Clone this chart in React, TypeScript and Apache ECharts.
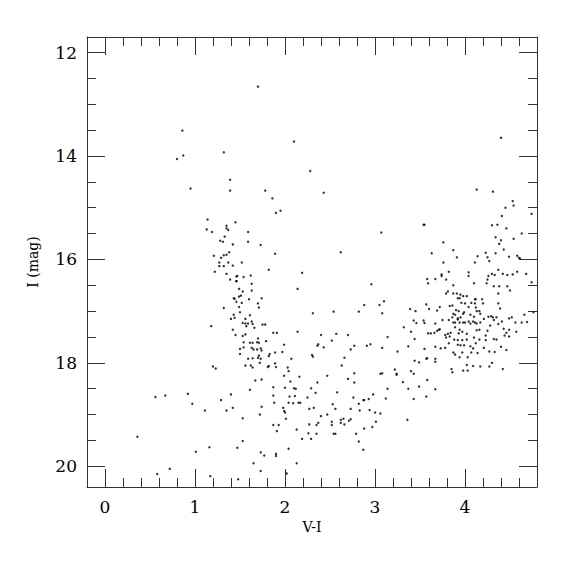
import React, { useEffect, useRef } from "react";
import * as echarts from "echarts";

// Tick values
const xMajor = [0, 1, 2, 3, 4];
const xMinor = [0, 0.2, 0.4, 0.6, 0.8, 1, 1.2, 1.4, 1.6, 1.8, 2, 2.2, 2.4, 2.6, 2.8, 3, 3.2, 3.4, 3.6, 3.8, 4, 4.2, 4.4, 4.6];
const yMajor = [12, 14, 16, 18, 20];
const yMinor = [12, 12.5, 13, 13.5, 14, 14.5, 15, 15.5, 16, 16.5, 17, 17.5, 18, 18.5, 19, 19.5, 20];

// [V-I, I] star measurements
const brightStars = [
  [1.70, 12.66], [0.86, 13.51], [0.87, 13.99], [0.80, 14.06], [1.32, 13.93], [1.39, 14.46], [1.39, 14.67],
  [0.95, 14.63], [2.10, 13.72], [2.28, 14.29], [1.78, 14.67], [2.43, 14.71], [1.86, 14.82], [1.90, 15.10],
  [1.95, 15.06], [4.40, 13.65], [4.13, 14.65], [4.31, 14.69],
];

const leftBranch = [
  [1.14, 15.23], [1.45, 15.28], [1.13, 15.42], [1.19, 15.47], [1.35, 15.35], [1.35, 15.40], [1.37, 15.43],
  [1.33, 15.56], [1.28, 15.64], [1.31, 15.66], [1.42, 15.71], [1.38, 15.86], [1.35, 15.91], [1.32, 15.92],
  [1.21, 15.93], [1.29, 15.97], [1.27, 16.06], [1.37, 16.06], [1.27, 16.13], [1.32, 16.13], [1.42, 16.12],
  [1.22, 16.24], [1.35, 16.28], [1.39, 16.39], [1.46, 16.42], [1.46, 16.33], [1.43, 16.75], [1.44, 16.76],
  [1.46, 16.82], [1.32, 16.94], [1.43, 17.07], [1.44, 17.13], [1.40, 17.15], [1.18, 17.29], [1.42, 17.36],
  [1.45, 17.46], [1.20, 18.07], [1.23, 18.11], [0.56, 18.66], [0.67, 18.63], [0.92, 18.60], [0.97, 18.79],
  [1.11, 18.92], [1.29, 18.72], [1.40, 18.61], [1.35, 18.92], [1.42, 18.87], [0.36, 19.43], [1.01, 19.72],
  [1.16, 19.63], [0.58, 20.15], [0.72, 20.05], [1.17, 20.19],
  [1.59, 15.47], [1.59, 15.66], [1.73, 15.72], [1.89, 15.89], [1.52, 16.06], [1.82, 16.20], [2.19, 16.26],
  [1.47, 16.32], [1.54, 16.34], [1.62, 16.31], [1.46, 16.42], [1.63, 16.47], [2.14, 16.57], [1.49, 16.57],
  [1.53, 16.62], [1.63, 16.60], [1.51, 16.70], [1.49, 16.72], [1.74, 16.75], [1.60, 16.77],
];

const middleStars = [
  [3.07, 15.48], [2.62, 15.86], [2.96, 16.48],
  [1.52, 16.84], [1.70, 16.85], [1.49, 16.92], [1.71, 16.93], [1.50, 17.02], [1.61, 17.08], [1.56, 17.15],
  [1.63, 17.20], [1.53, 17.23], [1.56, 17.24], [1.59, 17.24], [1.57, 17.29], [1.64, 17.25], [1.66, 17.32],
  [1.75, 17.26], [1.78, 17.26], [1.53, 17.48], [1.56, 17.45], [1.70, 17.53], [1.87, 17.42], [1.91, 17.42],
  [1.54, 17.60], [1.61, 17.61], [1.64, 17.61], [1.69, 17.60], [1.71, 17.61], [1.79, 17.58], [2.14, 17.40],
  [2.31, 17.04], [2.54, 17.01], [2.88, 16.88], [3.05, 16.88], [3.10, 16.81], [2.82, 17.01], [3.08, 17.04],
  [3.14, 17.50], [2.40, 17.46], [2.57, 17.44], [2.70, 17.46], [2.52, 17.57], [2.37, 17.64], [2.36, 17.67],
  [2.43, 17.70], [2.30, 17.85], [2.31, 17.88], [1.99, 17.65], [1.97, 17.79], [1.89, 17.80], [1.83, 17.83],
  [1.82, 17.87], [1.50, 17.73], [1.50, 17.83], [1.54, 17.70], [1.63, 17.71], [1.65, 17.74], [1.69, 17.74],
  [1.73, 17.72], [1.74, 17.76], [1.71, 17.86], [1.70, 17.90], [1.73, 17.92], [1.59, 17.92], [1.64, 17.91],
  [1.72, 18.00], [1.56, 18.05], [1.62, 18.05], [1.64, 18.09], [1.82, 18.06], [1.81, 18.08], [1.89, 18.01],
  [1.90, 18.08], [2.07, 17.92], [2.73, 17.74], [2.77, 17.67], [2.91, 17.67], [2.95, 17.64], [3.08, 17.71],
  [2.66, 17.90], [2.63, 18.05], [2.03, 18.09], [2.04, 18.16], [2.16, 18.27], [1.99, 18.25], [1.74, 18.32],
  [1.67, 18.34], [2.06, 18.36], [2.47, 18.25], [2.36, 18.38], [2.70, 18.31], [2.77, 18.20], [2.77, 18.38],
  [3.06, 18.21], [3.08, 18.20], [1.61, 18.52], [1.87, 18.47], [2.00, 18.48], [2.10, 18.49], [2.12, 18.50],
  [2.29, 18.49], [2.34, 18.58], [2.58, 18.57], [2.05, 18.65], [2.11, 18.64], [1.87, 18.63], [2.25, 18.67],
  [2.76, 18.67], [2.87, 18.72], [2.88, 18.72], [2.93, 18.70], [2.98, 18.61], [3.12, 18.69], [1.88, 18.77],
  [2.04, 18.77], [2.09, 18.78], [2.15, 18.77], [2.17, 18.77], [2.53, 18.80], [1.74, 18.85], [1.98, 18.87],
  [2.27, 18.89], [2.32, 18.87], [2.56, 18.89], [2.73, 18.89], [2.82, 18.79], [2.83, 18.92], [2.94, 18.91],
  [3.00, 18.96], [3.06, 18.98], [1.72, 19.00], [1.99, 18.93], [2.00, 18.96], [2.01, 19.08], [1.53, 19.07],
  [2.40, 19.03], [2.47, 19.00], [2.62, 19.10], [2.65, 19.08], [2.71, 19.12], [2.73, 19.09], [3.01, 19.14],
  [2.52, 19.14], [2.37, 19.16], [2.35, 19.20], [2.52, 19.20], [2.62, 19.16], [2.66, 19.19], [2.27, 19.19],
  [1.87, 19.20], [1.93, 19.20], [2.97, 19.24], [2.88, 19.27], [2.13, 19.29], [1.91, 19.32], [2.54, 19.37],
  [2.56, 19.37], [2.35, 19.37], [2.26, 19.36], [2.79, 19.37], [2.19, 19.47], [2.29, 19.47], [1.53, 19.51],
  [2.82, 19.52], [1.47, 19.64], [2.04, 19.66], [2.87, 19.68], [1.73, 19.73], [1.77, 19.79], [1.90, 19.76],
  [1.90, 19.80], [1.65, 19.94], [2.13, 19.94], [1.73, 20.09], [2.02, 20.14], [1.48, 20.25],
];

const redClumpUpper = [
  [4.53, 14.87], [4.54, 14.96], [4.45, 15.00], [4.74, 15.12], [4.41, 15.16], [3.54, 15.33], [3.55, 15.33],
  [4.30, 15.34], [4.36, 15.33], [4.46, 15.40], [4.63, 15.50], [4.34, 15.57], [4.40, 15.63], [4.54, 15.60],
  [4.38, 15.70], [3.76, 15.67], [3.87, 15.82], [3.63, 15.88], [4.43, 15.81], [3.91, 15.96], [4.23, 15.87],
  [4.14, 15.94], [4.25, 15.96], [4.34, 15.88], [4.49, 15.95], [4.58, 15.93], [4.60, 15.97], [4.61, 15.98],
  [3.76, 16.06], [4.11, 16.06], [4.27, 16.03], [4.37, 16.20],
];

const redClump = [
  [3.82, 16.24], [3.74, 16.29], [3.74, 16.32], [3.58, 16.38], [3.59, 16.46], [3.67, 16.38], [3.79, 16.39],
  [3.87, 16.50], [4.04, 16.25], [4.04, 16.32], [4.10, 16.46], [4.25, 16.39], [4.26, 16.32], [4.30, 16.28],
  [4.33, 16.30], [4.42, 16.28], [4.47, 16.30], [4.53, 16.29], [4.58, 16.24], [4.68, 16.28], [4.24, 16.46],
  [4.32, 16.52], [4.38, 16.52], [4.47, 16.52], [4.50, 16.60], [4.74, 16.44], [3.81, 16.62], [3.79, 16.66],
  [3.87, 16.66], [3.91, 16.66], [3.92, 16.75], [3.94, 16.75], [3.95, 16.68], [3.98, 16.71], [4.02, 16.71],
  [4.11, 16.77], [4.12, 16.77], [4.19, 16.77], [4.37, 16.66], [4.07, 16.84], [4.11, 16.85], [4.20, 16.85],
  [4.12, 16.93], [4.00, 16.85], [3.96, 16.84], [3.86, 16.89], [3.83, 16.90], [3.72, 16.92], [3.60, 16.96],
  [3.57, 16.87], [3.39, 16.96], [3.45, 17.00], [3.69, 16.99], [3.90, 16.98], [3.93, 17.00], [4.04, 16.92],
  [4.37, 16.85], [4.39, 16.95], [3.87, 17.05], [3.89, 17.07], [3.98, 17.05], [3.99, 17.02], [4.13, 17.00],
  [4.16, 17.00], [4.17, 17.05], [4.06, 17.07], [4.10, 17.11], [3.95, 17.12], [3.92, 17.14], [3.86, 17.12],
  [3.82, 17.17], [3.75, 17.17], [3.67, 17.24], [3.54, 17.18], [3.43, 17.18], [3.46, 17.23], [3.55, 17.23],
  [3.32, 17.31], [3.40, 17.40], [3.44, 17.54], [3.59, 17.43], [3.62, 17.43], [3.66, 17.42], [3.69, 17.38],
  [3.71, 17.36], [3.72, 17.35], [3.78, 17.46], [3.81, 17.44], [3.84, 17.42], [3.89, 17.31], [3.87, 17.22],
  [3.89, 17.22], [3.92, 17.16], [3.94, 17.22], [3.98, 17.22], [4.00, 17.22], [4.04, 17.20], [4.06, 17.24],
  [4.09, 17.20], [4.11, 17.22], [4.13, 17.24], [4.17, 17.22], [4.21, 17.15], [4.26, 17.11], [4.29, 17.10],
  [4.31, 17.12], [4.32, 17.17], [4.35, 17.12], [4.41, 17.20], [4.49, 17.14], [4.52, 17.12], [4.56, 17.22],
  [4.63, 17.22], [4.66, 17.07], [4.69, 17.21], [4.76, 17.02], [3.94, 17.36], [3.97, 17.40], [4.02, 17.44],
  [4.13, 17.37], [4.16, 17.36], [4.25, 17.38], [4.28, 17.28], [4.37, 17.25], [4.43, 17.34], [4.46, 17.42],
  [4.49, 17.36], [4.57, 17.40], [4.23, 17.47], [4.32, 17.54], [4.35, 17.55], [4.44, 17.47], [4.49, 17.49],
  [3.93, 17.43], [3.83, 17.49], [3.79, 17.51], [3.88, 17.55], [3.92, 17.56], [3.97, 17.56], [4.02, 17.55],
  [4.10, 17.51], [4.12, 17.62], [4.16, 17.55],
];

const redFaint = [
  [3.55, 17.73], [3.67, 17.69], [3.73, 17.72], [3.78, 17.71], [3.82, 17.62], [3.92, 17.65], [3.95, 17.66],
  [3.99, 17.66], [4.06, 17.68], [4.09, 17.72], [4.21, 17.71], [4.23, 17.56], [4.40, 17.69], [4.46, 17.75],
  [4.27, 17.78], [4.33, 17.79], [3.37, 17.68], [3.25, 17.78], [3.44, 17.96], [3.49, 17.99], [3.57, 17.92],
  [3.58, 17.91], [3.67, 17.92], [3.67, 17.98], [3.87, 17.80], [3.89, 17.84], [3.94, 17.89], [3.97, 17.80],
  [4.03, 17.89], [4.07, 17.80], [4.14, 17.81], [4.02, 18.04], [4.09, 18.06], [4.17, 18.07], [4.27, 18.07],
  [4.30, 18.00], [3.85, 18.12], [3.86, 18.18], [3.98, 18.15], [4.03, 18.15], [4.42, 18.12], [3.22, 18.13],
  [3.24, 18.21], [3.24, 18.23], [3.40, 18.16], [3.43, 18.21], [3.31, 18.37], [3.58, 18.33], [3.49, 18.46],
  [3.37, 18.50], [3.67, 18.51], [3.14, 18.50], [3.43, 18.70], [3.57, 18.65], [3.36, 19.10],
];

const FONT = "DejaVu Serif";
const LINE = "#333";

function axisX(position: string, ticks: number[], len: number, showLine: boolean, labels: boolean, extra: any = {}) {
  return {
    type: "value",
    min: -0.2,
    max: 4.8,
    position,
    axisLine: { show: showLine, onZero: false, lineStyle: { color: LINE, width: 1 } },
    axisTick: { show: true, inside: true, length: len, customValues: ticks, lineStyle: { color: LINE, width: 1 } },
    axisLabel: labels
      ? { show: true, customValues: xMajor, margin: 11, color: "#000", fontFamily: FONT, fontSize: 17 }
      : { show: false },
    splitLine: { show: false },
    ...extra,
  };
}

function axisY(position: string, ticks: number[], len: number, showLine: boolean, labels: boolean, extra: any = {}) {
  return {
    type: "value",
    min: 11.7,
    max: 20.4,
    inverse: true,
    position,
    axisLine: { show: showLine, onZero: false, lineStyle: { color: LINE, width: 1 } },
    axisTick: { show: true, inside: true, length: len, customValues: ticks, lineStyle: { color: LINE, width: 1 } },
    axisLabel: labels
      ? { show: true, customValues: yMajor, margin: 10, color: "#000", fontFamily: FONT, fontSize: 17 }
      : { show: false },
    splitLine: { show: false },
    ...extra,
  };
}

export default function App() {
  const ref = useRef<HTMLDivElement>(null);
  useEffect(() => {
    if (!ref.current) return;
    const chart = echarts.init(ref.current, null, { renderer: "svg" });
    const allPoints = [...brightStars, ...leftBranch, ...middleStars, ...redClumpUpper, ...redClump, ...redFaint];
    chart.setOption({
      animation: false,
      backgroundColor: "#fff",
      grid: { left: 87, top: 37, width: 450, height: 450 },
      xAxis: [
        axisX("bottom", xMajor, 18, true, true, {
          name: "V-I",
          nameLocation: "middle",
          nameGap: 31,
          nameTextStyle: { fontFamily: FONT, fontSize: 14, color: "#000" },
        }),
        axisX("bottom", xMinor, 9, false, false),
        axisX("top", xMajor, 18, true, false),
        axisX("top", xMinor, 9, false, false),
      ],
      yAxis: [
        axisY("left", yMajor, 18, true, true, {
          name: "I (mag)",
          nameLocation: "middle",
          nameGap: 47,
          nameTextStyle: { fontFamily: FONT, fontSize: 14, color: "#000" },
        }),
        axisY("left", yMinor, 9, false, false),
        axisY("right", yMajor, 18, true, false),
        axisY("right", yMinor, 9, false, false),
      ],
      series: [
        {
          type: "scatter",
          xAxisIndex: 0,
          yAxisIndex: 0,
          data: allPoints,
          symbol: "circle",
          symbolSize: 2.4,
          itemStyle: { color: "#000" },
          silent: true,
        },
      ],
    });
    return () => chart.dispose();
  }, []);
  return <div ref={ref} style={{ position: "fixed", left: 0, top: 0, width: 575, height: 575 }} />;
}
